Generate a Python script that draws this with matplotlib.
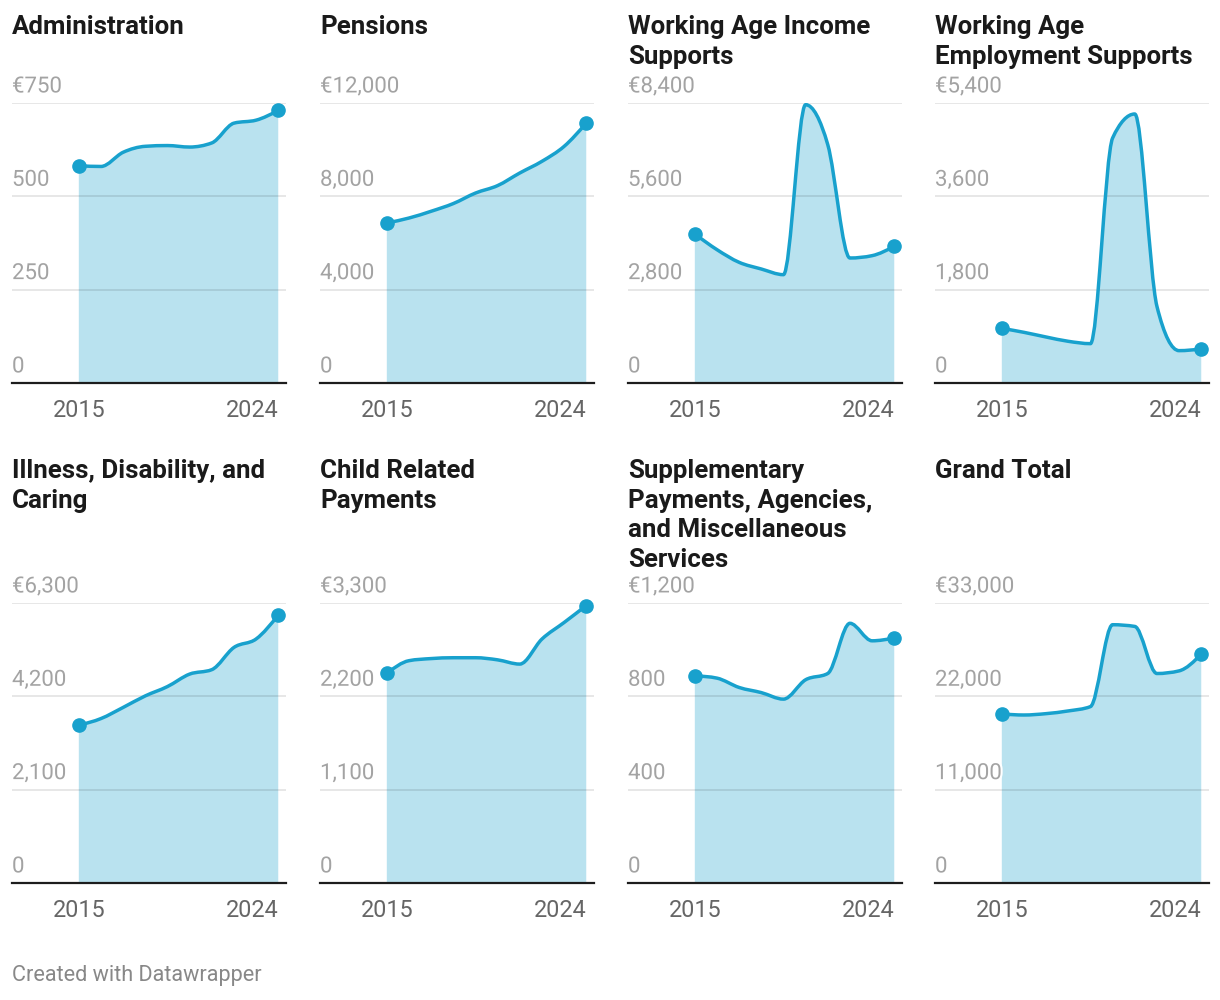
import matplotlib
matplotlib.use("Agg")
import matplotlib.pyplot as plt
import matplotlib.patheffects as pe
from matplotlib.path import Path
from matplotlib.patches import PathPatch
from matplotlib.transforms import blended_transform_factory
import numpy as np

plt.rcParams['font.family'] = ['Roboto', 'DejaVu Sans']

# Data (EUR millions)
years = [2015, 2016, 2017, 2018, 2019, 2020, 2021, 2022, 2023, 2024]
titles = [
    "Administration",
    "Pensions",
    "Working Age Income\nSupports",
    "Working Age\nEmployment Supports",
    "Illness, Disability, and\nCaring",
    "Child Related\nPayments",
    "Supplementary\nPayments, Agencies,\nand Miscellaneous\nServices",
    "Grand Total",
]
admin = [582, 580, 618, 634, 636, 632, 643, 696, 704, 730]
pensions = [6860, 7070, 7360, 7690, 8140, 8460, 9000, 9500, 10140, 11140]
wa_income = [4470, 4000, 3620, 3420, 3250, 8350, 7150, 3750, 3820, 4100]
wa_employment = [1054, 977, 887, 804, 759, 4725, 5188, 1479, 624, 656]
illness = [3550, 3700, 3950, 4210, 4420, 4700, 4800, 5300, 5490, 6030]
child = [2470, 2620, 2645, 2655, 2655, 2630, 2580, 2875, 3070, 3270]
supplementary = [888, 878, 838, 816, 788, 871, 898, 1113, 1038, 1050]
grand_total = [19920, 19800, 19960, 20280, 20790, 30440, 30240, 24690, 25000, 26975]
series = [admin, pensions, wa_income, wa_employment,
          illness, child, supplementary, grand_total]
y_max = [750, 12000, 8400, 5400, 6300, 3300, 1200, 33000]

LINE = '#18a1cd'
W, H = 1220, 1000


def monotone_path(x, y, close_to=None):
    # cubic bezier path with monotone-x tangents (like d3.curveMonotoneX)
    x = np.asarray(x, float)
    y = np.asarray(y, float)
    n = len(x)
    h = np.diff(x)
    s = np.diff(y) / h
    t = np.zeros(n)
    for i in range(1, n - 1):
        p = (s[i - 1] * h[i] + s[i] * h[i - 1]) / (h[i - 1] + h[i])
        t[i] = (np.sign(s[i - 1]) + np.sign(s[i])) * min(abs(s[i - 1]), abs(s[i]), 0.5 * abs(p))
    t[0] = (3 * s[0] - t[1]) / 2
    t[-1] = (3 * s[-1] - t[-2]) / 2
    verts = [(x[0], y[0])]
    codes = [Path.MOVETO]
    for i in range(n - 1):
        d = h[i] / 3
        verts += [(x[i] + d, y[i] + d * t[i]), (x[i + 1] - d, y[i + 1] - d * t[i + 1]), (x[i + 1], y[i + 1])]
        codes += [Path.CURVE4] * 3
    if close_to is not None:
        verts += [(x[-1], close_to), (x[0], close_to), (x[0], y[0])]
        codes += [Path.LINETO, Path.LINETO, Path.CLOSEPOLY]
    return Path(verts, codes)


fig = plt.figure(figsize=(W / 100, H / 100), dpi=100)

lefts = [12, 320, 628, 935]
panel_w = 274
tops = [103, 603]
panel_h = 280
title_tops = [15, 459]

for k, (vals, title, ymax) in enumerate(zip(series, titles, y_max)):
    r, c = divmod(k, 4)
    left = lefts[c]
    top = tops[r]
    ax = fig.add_axes([left / W, (H - top - panel_h) / H, panel_w / W, panel_h / H])
    ax.set_xlim(2011.985, 2024.35)
    ax.set_ylim(0, ymax)
    ax.axis('off')

    area = PathPatch(monotone_path(years, vals, close_to=0), facecolor=LINE, alpha=0.3,
                     edgecolor='none', zorder=1)
    ax.add_patch(area)
    line = PathPatch(monotone_path(years, vals), facecolor='none', edgecolor=LINE,
                     lw=2.5, capstyle='round', joinstyle='round', zorder=5)
    ax.add_patch(line)
    ax.plot([years[0], years[-1]], [vals[0], vals[-1]], 'o', color=LINE, ms=9.5,
            zorder=6, clip_on=False)

    ticks = [0, ymax / 3, 2 * ymax / 3, ymax]
    trans = blended_transform_factory(ax.transAxes, ax.transData)
    for i, v in enumerate(ticks):
        if v > 0:
            ax.axhline(v, color='black', alpha=0.1, lw=1.3, zorder=3)
        lab = f"{v:,.0f}"
        if i == len(ticks) - 1:
            lab = "€" + lab
        ax.annotate(lab, (0, v), xycoords=trans, xytext=(0, 4), textcoords='offset points',
                    ha='left', va='bottom', fontsize=16, color='#a3a3a3', zorder=4,
                    path_effects=[pe.withStroke(linewidth=3, foreground='white')])
    ax.axhline(0, color='#1d1d1d', lw=1.6, zorder=7, clip_on=False)

    ax.annotate(str(years[0]), (years[0], 0), xytext=(0, -20), textcoords='offset points',
                ha='center', va='center', fontsize=16.8, color='#666666')
    ax.annotate(str(years[-1]), (years[-1], 0), xytext=(0, -20), textcoords='offset points',
                ha='right', va='center', fontsize=16.8, color='#666666')

    fig.text(left / W, 1 - title_tops[r] / H, title, ha='left', va='top',
             fontsize=18.6, fontweight='bold', color='#1a1a1a', linespacing=1.29)

fig.text(12 / W, 1 - 976 / H, "Created with Datawrapper", ha='left', va='center',
         fontsize=15.6, color='#888888')

fig.savefig('out.png', dpi=100)
